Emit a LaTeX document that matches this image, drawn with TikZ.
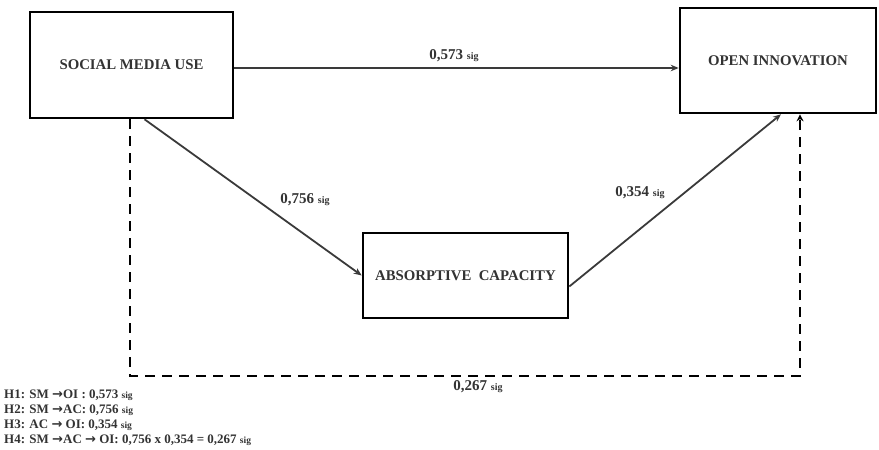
\documentclass[tikz,border=0pt]{standalone}
\usepackage{fontspec}
\setmainfont{Liberation Serif}
\newfontfamily\arrowfont{DejaVu Sans}
\usetikzlibrary{arrows.meta,calc}
\definecolor{txt}{HTML}{333333}
\definecolor{ln}{HTML}{3A3A3A}
\newcommand{\sigtxt}{{\fontsize{10}{11}\selectfont sig}}
\newcommand{\hsig}{{\fontsize{9.5}{10}\selectfont sig}}
\newcommand{\harr}{{\arrowfont\bfseries →}}
\begin{document}
\begin{tikzpicture}[x=1pt,y=-1pt,
  box/.style={draw=black,line width=2.6pt,fill=white,inner sep=0pt,
    font=\fontsize{14.8}{16}\selectfont\bfseries,text=txt},
  arr/.style={draw=ln,line width=1.8pt,-{Stealth[length=8pt,width=6.5pt]}},
  dsh/.style={draw=black,line width=2.6pt,dash pattern=on 10pt off 7pt,-{Stealth[length=7pt,width=7pt]}},
  lbl/.style={font=\fontsize{15}{16}\selectfont\bfseries,text=txt,inner sep=0pt},
  hyp/.style={font=\fontsize{13}{14}\selectfont\bfseries,text=txt,inner sep=0pt,anchor=west}]
\useasboundingbox (0,0) rectangle (879,450);
\node[box,minimum width=203pt,minimum height=106pt] (SM) at (131.5,65) {SOCIAL MEDIA USE};
\node[box,minimum width=196pt,minimum height=105pt] (OI) at (778,60.5) {OPEN INNOVATION};
\node[box,minimum width=205pt,minimum height=85pt] (AC) at (465.5,275.5) {ABSORPTIVE\ \ CAPACITY};
\coordinate (d1) at (130,376);
\coordinate (d2) at (800,376);
\draw[arr] ([yshift=-3pt]SM.east) -- ([yshift=-3pt]SM.east -| OI.west);
\draw[arr] ([xshift=13pt]SM.south) -- (AC.west);
\draw[arr] ([yshift=-11pt]AC.east) -- ([xshift=3pt]OI.south);
\draw[dsh] (SM.south -| d1) -- (d1) -- (d2) -- (OI.south -| d2);
\node[lbl] (l1) at (454,56) {0,573 \sigtxt};
\node[lbl] (l2) at (305,200) {0,756 \sigtxt};
\node[lbl] (l3) at (640,193) {0,354 \sigtxt};
\node[lbl] (l4) at (478,387) {0,267 \sigtxt};
\node[hyp] (h1) at (4,395) {H1: SM \harr OI : 0,573 \hsig};
\node[hyp] (h2) at (4,410) {H2: SM \harr AC: 0,756 \hsig};
\node[hyp] (h3) at (4,425) {H3: AC \harr\ OI: 0,354 \hsig};
\node[hyp] (h4) at (4,440) {H4: SM \harr AC \harr\ OI: 0,756 x 0,354 = 0,267 \hsig};
\end{tikzpicture}
\end{document}
